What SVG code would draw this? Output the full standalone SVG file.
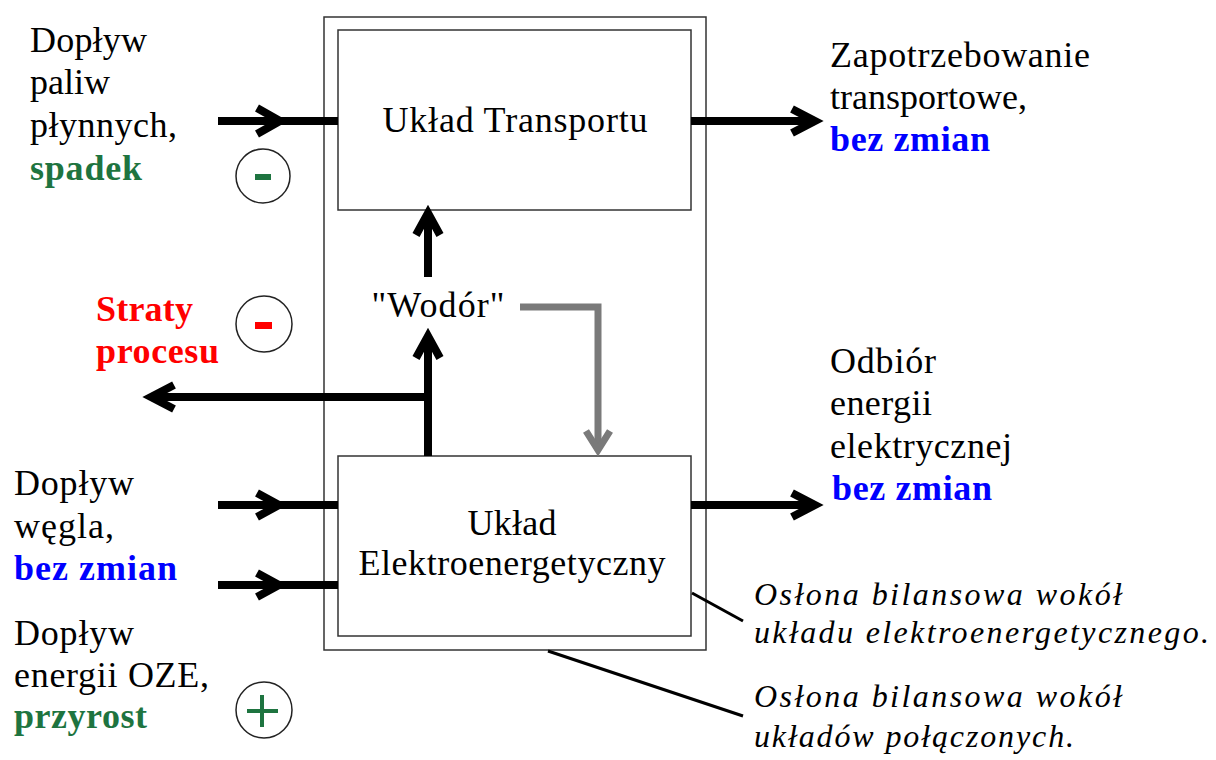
<svg xmlns="http://www.w3.org/2000/svg" width="1216" height="760" viewBox="0 0 1216 760">
<style>
.t{font-family:'Liberation Serif','DejaVu Serif',serif;font-size:36px;fill:#000}
.b{font-weight:bold}
.blue{fill:#0000ff}
.green{fill:#1e7440}
.red{fill:#ff0000}
.it{font-style:italic;font-size:32px}
.box{fill:#fff;stroke:#333;stroke-width:1.5}
.arr{fill:none;stroke:#000;stroke-width:8}
.head{fill:none;stroke:#000;stroke-width:8;stroke-linejoin:miter;stroke-linecap:butt}
.gray{fill:none;stroke:#7a7a7a;stroke-width:7}
.circ{fill:#fff;stroke:#222;stroke-width:1.5}
.ptr{stroke:#000;stroke-width:3}
</style>
<rect width="1216" height="760" fill="#fff"/>
<g id="outer-envelope"><rect class="box" x="324" y="17" width="382" height="633"/></g>
<g id="transport"><rect class="box" x="338" y="30" width="353" height="180"/>
<text class="t" x="515" y="132" text-anchor="middle" textLength="265">Układ Transportu</text></g>
<g id="electro"><rect class="box" x="338" y="456" width="353" height="180"/>
<text class="t" x="512" y="535" text-anchor="middle" textLength="89">Układ</text>
<text class="t" x="512" y="575" text-anchor="middle" textLength="307">Elektroenergetyczny</text></g>
<g id="wodor"><text class="t" x="438" y="317" text-anchor="middle" textLength="133">"Wodór"</text></g>
<g id="connectors">
<line class="arr" x1="218" y1="121" x2="338" y2="121"/>
<polyline class="head" points="257,108 280,121 257,134"/>
<line class="arr" x1="218" y1="505" x2="338" y2="505"/>
<polyline class="head" points="257,493 279,505 257,517"/>
<line class="arr" x1="218" y1="585" x2="338" y2="585"/>
<polyline class="head" points="257,573 279,585 257,597"/>
<line class="arr" x1="691" y1="121" x2="816" y2="121"/>
<polyline class="head" points="792,109 815,121 792,133"/>
<line class="arr" x1="691" y1="505" x2="816" y2="505"/>
<polyline class="head" points="792,493 815,505 792,517"/>
<line class="arr" x1="428" y1="456" x2="428" y2="336"/>
<polyline class="head" points="416,358 428,336 440,358"/>
<line class="arr" x1="432" y1="397" x2="150" y2="397"/>
<polyline class="head" points="174,385 151,397 174,409"/>
<line class="arr" x1="428" y1="277" x2="428" y2="213"/>
<polyline class="head" points="416,235 428,213 440,235"/>
<polyline class="gray" points="520,307 598,307 598,450"/>
<polyline class="gray" points="586,431 598,450 610,431" stroke-linejoin="miter"/>
<line class="ptr" x1="692" y1="593" x2="743" y2="621"/>
<line class="ptr" x1="548" y1="651" x2="743" y2="716"/>
</g>
<g id="label-fuel">
<text class="t" x="30" y="52" textLength="117">Dopływ</text>
<text class="t" x="30" y="94" textLength="80">paliw</text>
<text class="t" x="30" y="137" textLength="147">płynnych,</text>
<text class="t b green" x="30" y="180" textLength="112">spadek</text>
</g>
<g id="sign-fuel"><circle class="circ" cx="263" cy="176" r="27"/><rect x="255" y="174" width="16" height="6" fill="#1e7440"/></g>
<g id="label-losses">
<text class="t b red" x="96" y="321" textLength="97">Straty</text>
<text class="t b red" x="96" y="363" textLength="123">procesu</text>
</g>
<g id="sign-losses"><circle class="circ" cx="264" cy="324" r="28"/><rect x="255" y="322" width="17" height="7" fill="#ff0000"/></g>
<g id="label-coal">
<text class="t" x="14" y="495" textLength="120">Dopływ</text>
<text class="t" x="14" y="538" textLength="100">węgla,</text>
<text class="t b blue" x="14" y="580" textLength="163">bez zmian</text>
</g>
<g id="label-oze">
<text class="t" x="14" y="645" textLength="120">Dopływ</text>
<text class="t" x="14" y="687" textLength="195">energii OZE,</text>
<text class="t b green" x="14" y="728" textLength="133">przyrost</text>
</g>
<g id="sign-oze"><circle class="circ" cx="264" cy="710" r="28"/><path d="M247 711H278M262 695V727" stroke="#1e7440" stroke-width="4"/></g>
<g id="label-transport-demand">
<text class="t" x="830" y="67" textLength="260">Zapotrzebowanie</text>
<text class="t" x="830" y="109">transportowe,</text>
<text class="t b blue" x="830" y="151" textLength="160">bez zmian</text>
</g>
<g id="label-electric-demand">
<text class="t" x="830" y="373" textLength="106">Odbiór</text>
<text class="t" x="830" y="415" textLength="102">energii</text>
<text class="t" x="830" y="458" textLength="182">elektrycznej</text>
<text class="t b blue" x="832" y="500" textLength="160">bez zmian</text>
</g>
<g id="note-electro">
<text class="t it" x="754" y="605" textLength="368">Osłona bilansowa wokół</text>
<text class="t it" x="754" y="643" textLength="455">układu elektroenergetycznego.</text>
</g>
<g id="note-combined">
<text class="t it" x="754" y="707" textLength="368">Osłona bilansowa wokół</text>
<text class="t it" x="754" y="747" textLength="320">układów połączonych.</text>
</g>
</svg>
